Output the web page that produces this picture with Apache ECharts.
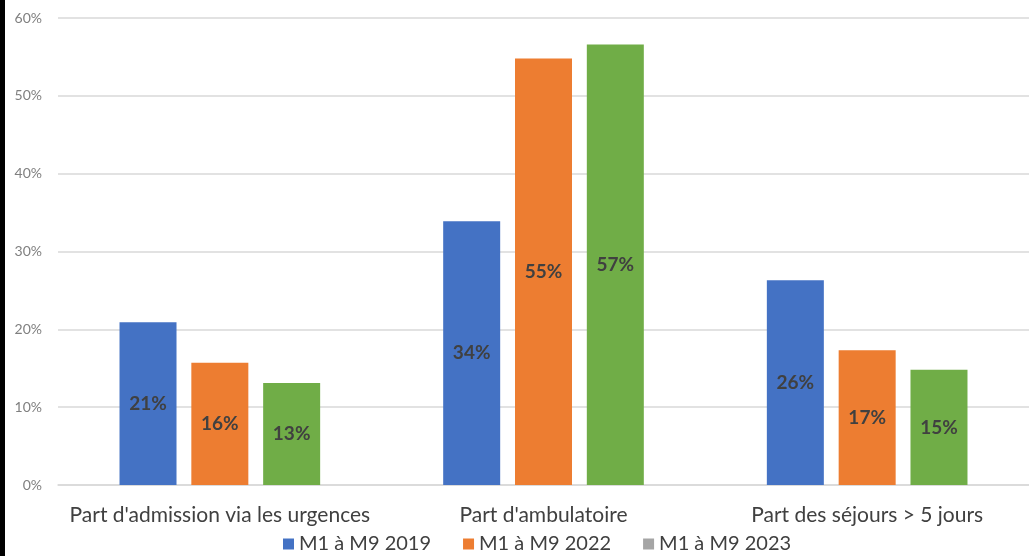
<!DOCTYPE html>
<html>
<head>
<meta charset="utf-8">
<script src="https://cdn.jsdelivr.net/npm/echarts@6/dist/echarts.min.js"></script>
<style>
  html, body { margin: 0; padding: 0; background: #fff; }
  #chart { width: 1029px; height: 556px; }
</style>
</head>
<body>
<div id="chart"></div>
<script>
// Categories and series (share of stays, %)
const categories = ["Part d'admission via les urgences", "Part d'ambulatoire", "Part des séjours > 5 jours"];
const seriesNames = ["M1 à M9 2019", "M1 à M9 2022", "M1 à M9 2023"];
const values2019 = [20.9, 33.9, 26.3];
const values2022 = [15.7, 54.8, 17.3];
const values2023 = [13.1, 56.6, 14.8];
const barColors = ["#4472c4", "#ed7d31", "#70ad47"];
const legendColors = ["#4472c4", "#ed7d31", "#a5a5a5"];
const yTicks = [0, 10, 20, 30, 40, 50, 60];

const font = "Lato, 'Open Sans', sans-serif";
const allValues = [values2019, values2022, values2023];

const chart = echarts.init(document.getElementById('chart'));
chart.setOption({
  animation: false,
  backgroundColor: '#fff',
  textStyle: { fontFamily: font },
  graphic: [{
    type: 'rect',
    left: 0, top: 0,
    shape: { width: 5, height: 556 },
    style: { fill: '#000' }
  }],
  grid: { left: 58, right: -4, top: 18, bottom: 71 },
  legend: {
    bottom: -3,
    left: 278,
    itemWidth: 11,
    itemHeight: 11,
    itemGap: 32,
    icon: 'rect',
    textStyle: { fontSize: 20, color: '#404040', fontFamily: font },
    data: seriesNames.map((n, i) => ({ name: n, itemStyle: { color: legendColors[i] } }))
  },
  xAxis: {
    type: 'category',
    data: categories,
    axisTick: { show: false },
    axisLine: { lineStyle: { color: '#d9d9d9', width: 1.5 } },
    axisLabel: { interval: 0, fontSize: 21, color: '#404040', margin: 20, fontFamily: font }
  },
  yAxis: {
    type: 'value',
    min: yTicks[0],
    max: yTicks[yTicks.length - 1],
    interval: 10,
    axisLine: { show: false },
    axisTick: { show: false },
    splitLine: { lineStyle: { color: '#d9d9d9', width: 1.5 } },
    axisLabel: { fontSize: 14, color: '#7f7f7f', margin: 16, formatter: v => v + '%', fontFamily: font }
  },
  series: seriesNames.map((name, i) => ({
    name: name,
    type: 'bar',
    data: allValues[i],
    barWidth: 57,
    barGap: '26%',
    itemStyle: { color: barColors[i] },
    label: {
      show: true,
      position: 'inside',
      formatter: p => Math.round(p.value) + '%',
      fontSize: 19,
      fontWeight: 'bold',
      color: '#404040',
      fontFamily: font
    }
  }))
});
</script>
</body>
</html>
